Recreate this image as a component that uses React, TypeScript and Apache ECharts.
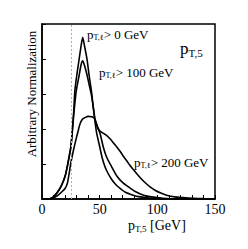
import React, { useEffect, useRef } from "react";
import * as echarts from "echarts";

const seriesPt0: [number, number][] = [
  [0, 0], [5, 0], [8, 0.02], [11, 0.1], [14, 0.22], [17, 0.4], [20, 0.65], [22, 0.95],
  [24, 1.3], [25, 1.5], [26, 1.85], [27.5, 2.5], [28.5, 3.1], [30, 3.5], [32, 3.95],
  [34, 4.4], [35.3, 4.62], [37, 4.35], [39, 4.0], [41, 3.5], [43, 3.05], [44.5, 2.6],
  [46, 2.2], [47.4, 1.88], [50, 1.5], [52, 1.2], [54.6, 0.92], [57, 0.75], [60, 0.58],
  [63, 0.45], [66, 0.35], [72, 0.2], [79, 0.11], [85, 0.06], [90, 0.04], [100, 0.01],
  [110, 0], [150, 0],
];

const seriesPt100: [number, number][] = [
  [0, 0], [5, 0], [8, 0.02], [11, 0.1], [14, 0.22], [17, 0.39], [20, 0.64], [22, 0.93],
  [24, 1.28], [25, 1.46], [26, 1.8], [27.5, 2.4], [29.7, 3.09], [32, 3.5], [34, 3.85],
  [35.3, 3.95], [37, 3.8], [39, 3.55], [41, 3.25], [43, 2.95], [45, 2.5], [46, 2.28],
  [48, 2.05], [50.3, 1.88], [53, 1.5], [56, 1.2], [60.4, 0.92], [65, 0.65], [70, 0.47],
  [74.8, 0.35], [80, 0.23], [88, 0.11], [95, 0.06], [105, 0.02], [115, 0], [150, 0],
];

const seriesPt200: [number, number][] = [
  [0, 0], [8, 0], [11, 0.05], [14, 0.11], [17, 0.2], [20, 0.3], [22, 0.45], [23.5, 0.72],
  [25, 1.03], [27, 1.35], [29, 1.64], [31, 1.9], [33, 2.15], [35, 2.28], [37, 2.32],
  [40, 2.36], [43, 2.35], [45, 2.32], [46.5, 2.22], [48, 2.08], [50, 1.95], [53, 1.88],
  [56, 1.82], [59, 1.72], [62, 1.6], [65, 1.48], [68, 1.35], [71, 1.2], [73.3, 1.1],
  [76, 0.97], [79, 0.85], [82, 0.73], [86, 0.58], [90, 0.45], [94, 0.34], [98, 0.25],
  [103, 0.17], [108, 0.11], [115, 0.06], [122, 0.04], [131, 0.02], [140, 0.01], [150, 0],
];

const cutValue = 25;
const xTickLabels = [0, 50, 100, 150];

const FONT = "'Liberation Serif', 'DejaVu Serif', serif";

export default function App() {
  const ref = useRef<HTMLDivElement>(null);
  useEffect(() => {
    document.body.style.margin = "0";
    if (!ref.current) return;
    const chart = echarts.init(ref.current, null, { renderer: "svg" });
    const lineStyle = { color: "#000", width: 1.6 };
    const rich = (size: number) => ({
      p: { fontSize: size, fontFamily: FONT, color: "#000" },
      s: { fontSize: Math.round(size * 0.62), fontFamily: FONT, color: "#000", padding: [size * 0.55, 0, 0, 0] },
    });
    const lab = (x: number, y: number, sub: string, rest: string, size: number) => ({
      type: "text",
      x,
      y,
      style: {
        text: `{p|p}{s|${sub}}{p|${rest}}`,
        rich: rich(size),
        verticalAlign: "middle",
        align: "left",
      },
    });
    chart.setOption({
      animation: false,
      grid: { left: 42, top: 24, width: 173, height: 175, show: true, borderColor: "#000", borderWidth: 1.5, backgroundColor: "transparent" },
      xAxis: {
        type: "value",
        min: 0,
        max: 150,
        interval: 10,
        axisLine: { show: true, lineStyle: { color: "#000", width: 1.5 } },
        axisTick: { show: true, inside: true, length: 4, lineStyle: { color: "#000", width: 1 } },
        axisLabel: {
          color: "#000",
          fontFamily: FONT,
          fontSize: 14,
          margin: 3,
          formatter: (v: number) => (xTickLabels.includes(v) ? String(v) : ""),
        },
        splitLine: { show: false },
      },
      yAxis: {
        type: "value",
        min: 0,
        max: 5,
        interval: 1,
        axisLine: { show: true, lineStyle: { color: "#000", width: 1.5 } },
        axisTick: { show: true, inside: true, length: 4, lineStyle: { color: "#000", width: 1 } },
        axisLabel: { show: false },
        splitLine: { show: false },
      },
      series: [
        {
          type: "line",
          data: seriesPt0,
          showSymbol: false,
          smooth: 0.2,
          lineStyle,
          markLine: {
            silent: true,
            symbol: "none",
            label: { show: false },
            lineStyle: { color: "#b0b0b0", type: [2, 2], width: 1 },
            data: [{ xAxis: cutValue }],
          },
        },
        { type: "line", data: seriesPt100, showSymbol: false, smooth: 0.2, lineStyle },
        { type: "line", data: seriesPt200, showSymbol: false, smooth: 0.2, lineStyle },
      ],
      graphic: [
        lab(87, 34, "T,ℓ", "> 0 GeV", 13),
        lab(99, 72, "T,ℓ", "> 100 GeV", 13),
        lab(134, 162, "T,ℓ", "> 200 GeV", 13),
        lab(180, 48, "T,5", "", 17),
        lab(128, 225, "T,5", " [GeV]", 14),
        {
          type: "text",
          x: 31,
          y: 94,
          rotation: Math.PI / 2,
          style: {
            text: "Arbitrary Normalization",
            fontFamily: FONT,
            fontSize: 13,
            fill: "#000",
            align: "center",
            verticalAlign: "middle",
          },
        },
      ],
    });
    return () => chart.dispose();
  }, []);
  return <div ref={ref} style={{ width: 248, height: 249 }} />;
}
